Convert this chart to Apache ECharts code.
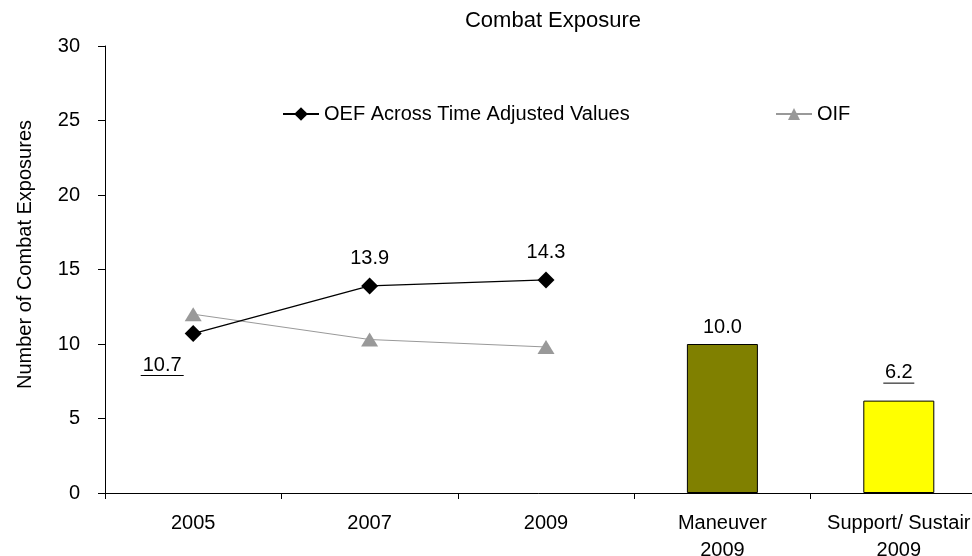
<!DOCTYPE html>
<html>
<head>
<meta charset="utf-8">
<script src="https://cdn.jsdelivr.net/npm/echarts@6/dist/echarts.min.js"></script>
<style>
  html, body { margin: 0; padding: 0; background: #fff; }
  #chart { width: 972px; height: 556px; }
</style>
</head>
<body>
<div id="chart"></div>
<script>
// categories on the x axis
const categories = ['2005', '2007', '2009', 'Maneuver\n2009', 'Support/ Sustair\n2009']
// line series
const oefValues = [10.7, 13.9, 14.3, '-', '-']
const oifValues = [12.0, 10.3, 9.8, '-', '-']
// bar values (last two categories)
const barValues = ['-', '-', '-', 10.0, 6.2]
const barColors = [null, null, null, '#808000', '#ffff00']
const yTicks = { min: 0, max: 30, interval: 5 }

const font = 'Liberation Sans, Arial, sans-serif'
const fs = 20

// underlined label: text line then a thin black bar
function ulLabel(text) {
  return '{v|' + text + '}\n{u' + text.length + '|}'
}
const ulRich = {
  v: { fontSize: fs, color: '#000', fontFamily: font, align: 'center', lineHeight: 20 },
  u3: { width: 31, height: 1, backgroundColor: '#000', align: 'center' },
  u4: { width: 43, height: 1, backgroundColor: '#000', align: 'center' }
}

const chart = echarts.init(document.getElementById('chart'))
chart.setOption({
  animation: false,
  backgroundColor: '#fff',
  textStyle: { fontFamily: font },
  title: {
    text: 'Combat Exposure',
    left: 548, top: 5, textAlign: 'center',
    textStyle: { fontSize: 22, fontWeight: 'normal', color: '#000', fontFamily: font }
  },
  legend: [
    {
      top: 99, left: 277,
      itemWidth: 36, itemHeight: 17, itemGap: 0,
      textStyle: { fontSize: fs, color: '#000', fontFamily: font },
      data: ['OEF Across Time Adjusted Values']
    },
    {
      top: 99, left: 770,
      itemWidth: 36, itemHeight: 15, itemGap: 0,
      textStyle: { fontSize: fs, color: '#000', fontFamily: font },
      data: ['OIF']
    }
  ],
  grid: { left: 105, top: 46, right: -15, height: 447, outerBoundsMode: 'none', containLabel: false },
  xAxis: {
    type: 'category',
    data: categories,
    axisLine: { lineStyle: { color: '#000', width: 1 } },
    axisTick: { show: true, length: 6, lineStyle: { color: '#000' } },
    axisLabel: { interval: 0, color: '#000', fontSize: fs, margin: 17, lineHeight: 27, fontFamily: font }
  },
  yAxis: {
    type: 'value',
    min: yTicks.min, max: yTicks.max, interval: yTicks.interval,
    name: 'Number of Combat Exposures',
    nameLocation: 'middle', nameGap: 70, nameRotate: 90,
    nameTextStyle: { fontSize: fs, color: '#000', fontFamily: font, padding: [0, 0, 0, 30] },
    axisLine: { show: true, lineStyle: { color: '#000', width: 1 } },
    axisTick: { show: true, length: 7, lineStyle: { color: '#000' } },
    axisLabel: { color: '#000', fontSize: fs, margin: 25, fontFamily: font },
    splitLine: { show: false }
  },
  series: [
    {
      name: 'Bars', type: 'bar',
      data: barValues.map(function (v, i) {
        const item = { value: v, itemStyle: { color: barColors[i] || '#fff', borderColor: '#000', borderWidth: 1 } }
        if (i === 4) item.label = { distance: 17 }
        return item
      }),
      barWidth: 71,
      label: {
        show: true, position: 'top', distance: 7,
        formatter: function (p) {
          const t = p.value.toFixed(1)
          return p.dataIndex === 4 ? ulLabel(t) : '{v|' + t + '}'
        },
        rich: ulRich
      }
    },
    {
      name: 'OIF', type: 'line',
      data: oifValues,
      symbol: 'triangle', symbolSize: [17, 14],
      lineStyle: { color: '#999999', width: 1 },
      itemStyle: { color: '#999999' },
      z: 3
    },
    {
      name: 'OEF Across Time Adjusted Values', type: 'line',
      data: oefValues.map(function (v, i) {
        if (i === 0) {
          return {
            value: v,
            label: { position: 'bottom', offset: [-31, 4], formatter: function (p) { return ulLabel(p.value.toFixed(1)) } }
          }
        }
        return v
      }),
      symbol: 'diamond', symbolSize: 17,
      lineStyle: { color: '#000', width: 1.3 },
      itemStyle: { color: '#000' },
      label: {
        show: true, position: 'top', distance: 9,
        formatter: function (p) { return '{v|' + p.value.toFixed(1) + '}' },
        rich: ulRich
      },
      z: 4
    }
  ]
})
</script>
</body>
</html>
